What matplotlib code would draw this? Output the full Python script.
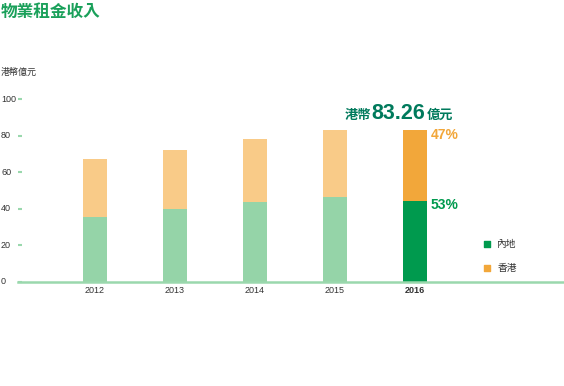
import matplotlib.pyplot as plt
import matplotlib.transforms as mtransforms
import numpy as np

plt.rcParams['font.family'] = ['Noto Sans CJK TC', 'DejaVu Sans']

# data (HK$ 100 million)
years = ['2012', '2013', '2014', '2015', '2016']
mainland = [35.5, 39.9, 43.7, 46.4, 44.1]
hongkong = [31.7, 32.2, 34.4, 36.9, 39.16]
total_2016 = '83.26'
pct_mainland = '53%'
pct_hk = '47%'
yticks = [0, 20, 40, 60, 80, 100]

light_green = '#95d4a8'
light_orange = '#f9cb88'
dark_green = '#009a4e'
orange = '#f2a73a'
title_green = '#1aa05a'
axis_green = '#9ad8ad'
num_font = ['Liberation Sans', 'DejaVu Sans']

fig = plt.figure(figsize=(5.64, 3.86), dpi=100)
ax = fig.add_axes([18 / 564, (386 - 282) / 386, (564 - 18) / 564, 183 / 386])

x = np.arange(len(years))
c1 = [light_green] * 4 + [dark_green]
c2 = [light_orange] * 4 + [orange]
ax.bar(x, mainland, width=0.3, color=c1, zorder=2)
ax.bar(x, hongkong, width=0.3, bottom=mainland, color=c2, zorder=2)

ax.set_xlim(-0.9625, 4 + 149 / 80)
ax.set_ylim(0, 100)
for s in ['top', 'right', 'left']:
    ax.spines[s].set_visible(False)
ax.spines['bottom'].set_color(axis_green)
ax.spines['bottom'].set_linewidth(1.8)
ax.spines['bottom'].set_zorder(3)

# y ticks: short green marks inside, labels at the far left
ax.set_yticks(yticks)
ax.set_yticklabels([])
ax.tick_params(axis='y', length=3, width=1.5, color=axis_green, direction='in')
trans = mtransforms.blended_transform_factory(fig.transFigure, ax.transData)
for v in yticks:
    ax.text(1 / 564, v, str(v), transform=trans, fontsize=6.5, color='#333333',
            va='center', ha='left', family=num_font)

ax.tick_params(axis='x', length=0, pad=3)
ax.set_xticks(x)
ax.set_xticklabels(years, fontsize=6.5, color='#333333', family=num_font)
ax.get_xticklabels()[-1].set_fontweight('bold')

fig.text(1 / 564, 1 - 12 / 386, '物業租金收入', fontsize=12, fontweight='bold',
         color=title_green, va='center', ha='left')
fig.text(1 / 564, 1 - 72 / 386, '港幣億元', fontsize=6.5, color='#333333',
         va='center', ha='left')

# total label above 2016
tot = mainland[4] + hongkong[4]
ax.annotate('港幣', xy=(4, tot), xytext=(-70, 15), textcoords='offset pixels',
            fontsize=9.5, fontweight='bold', color='#007a5c', va='center', ha='left',
            annotation_clip=False)
ax.annotate(total_2016, xy=(4, tot), xytext=(-44, 16), textcoords='offset pixels',
            fontsize=15.5, fontweight='bold', color='#007a5c', va='center', ha='left',
            annotation_clip=False, family=num_font)
ax.annotate('億元', xy=(4, tot), xytext=(12, 15), textcoords='offset pixels',
            fontsize=9.5, fontweight='bold', color='#007a5c', va='center', ha='left',
            annotation_clip=False)

ax.text(4.2, tot - 2.7, pct_hk, fontsize=10, fontweight='bold', color=orange,
        va='center', ha='left', family=num_font)
ax.text(4.2, mainland[4] - 2, pct_mainland, fontsize=10, fontweight='bold',
        color=dark_green, va='center', ha='left', family=num_font)

# legend
ax.scatter([4.9], [20.8], marker='s', s=22, color=dark_green, clip_on=False)
ax.scatter([4.9], [7.7], marker='s', s=22, color=orange, clip_on=False)
ax.text(5.03, 20.8, '內地', fontsize=7, color='#333333', va='center', ha='left')
ax.text(5.03, 7.7, '香港', fontsize=7, color='#333333', va='center', ha='left')

fig.savefig('out.png', dpi=100)
